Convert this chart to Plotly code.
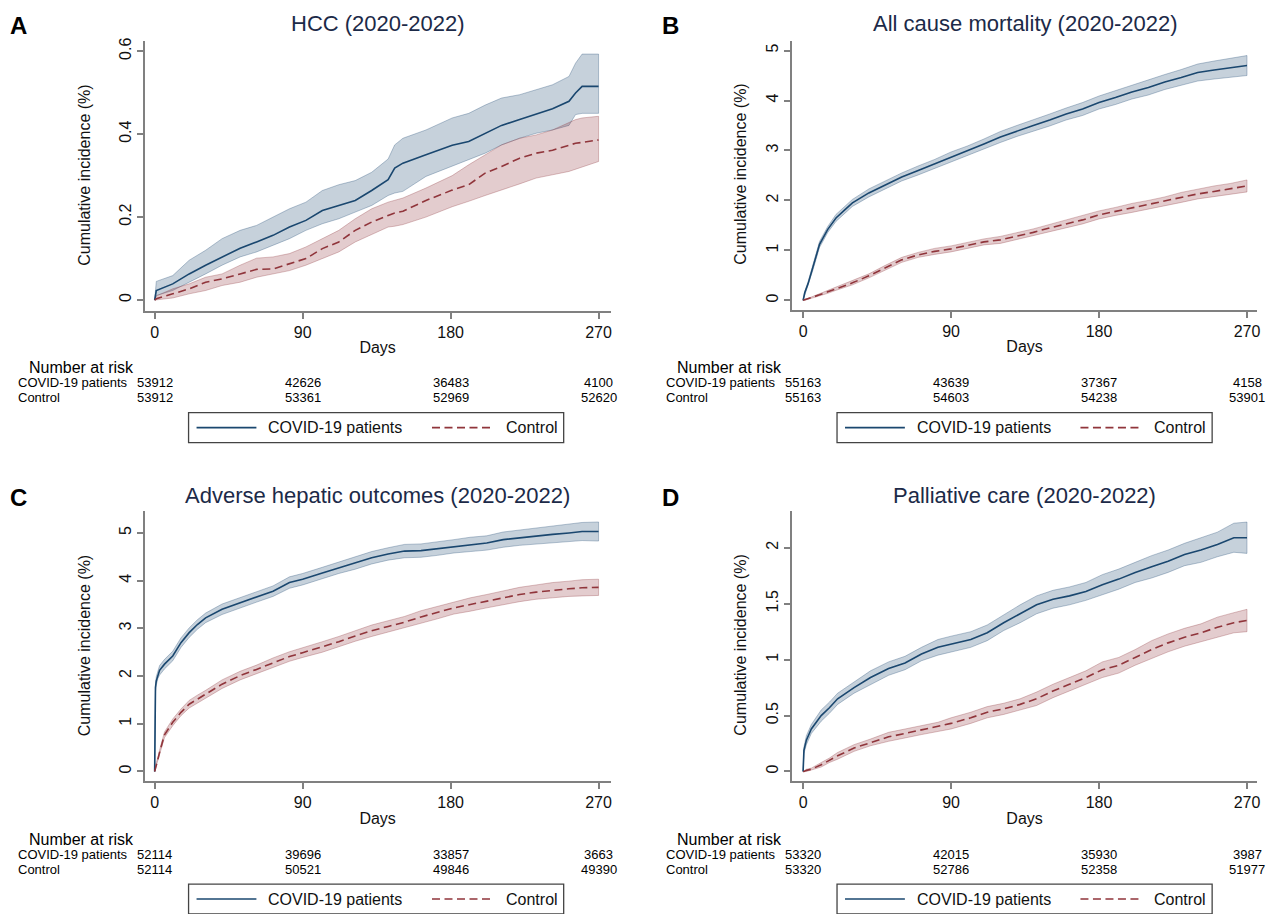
import plotly.graph_objects as go

# page body adds an 8px margin, so the figure is drawn 8px smaller and all
# reference pixel positions are shifted by that offset
PAGE_W, PAGE_H = 1275, 914
OFF = 8
W, H = PAGE_W - OFF, PAGE_H - OFF

# ---------------- data ----------------
risk_ticks = [0, 90, 180, 270]

# Panel A: HCC
a_days = [0, 1, 11, 21, 31, 41, 52, 62, 72, 82, 92, 102, 112, 122, 132, 142, 146, 151, 165, 181,
          191, 201, 211, 222, 232, 242, 252, 256, 260, 270]
a_covid = [0, 0.023, 0.039, 0.063, 0.084, 0.104, 0.125, 0.14, 0.156, 0.176, 0.192, 0.216, 0.228, 0.24,
           0.264, 0.29, 0.318, 0.33, 0.35, 0.373, 0.382, 0.402, 0.421, 0.435, 0.448, 0.461, 0.479,
           0.499, 0.515, 0.515]
a_covid_hi = [0, 0.045, 0.059, 0.096, 0.12, 0.148, 0.168, 0.18, 0.2, 0.22, 0.236, 0.264, 0.278, 0.288,
              0.308, 0.34, 0.374, 0.39, 0.41, 0.439, 0.45, 0.47, 0.487, 0.495, 0.507, 0.519, 0.539,
              0.571, 0.593, 0.593]
a_covid_lo = [0, 0.011, 0.023, 0.043, 0.063, 0.084, 0.104, 0.116, 0.132, 0.148, 0.168, 0.184, 0.196,
              0.212, 0.228, 0.252, 0.258, 0.262, 0.298, 0.322, 0.338, 0.354, 0.374, 0.39, 0.402, 0.41,
              0.421, 0.447, 0.45, 0.45]
a_ctrl = [0, 0.003, 0.015, 0.027, 0.043, 0.051, 0.063, 0.074, 0.075, 0.088, 0.1, 0.124, 0.14, 0.168,
          0.188, 0.204, 0.21, 0.214, 0.24, 0.265, 0.278, 0.306, 0.322, 0.342, 0.354, 0.361, 0.373,
          0.378, 0.38, 0.386]
a_ctrl_hi = [0, 0.01, 0.027, 0.039, 0.055, 0.063, 0.084, 0.101, 0.104, 0.112, 0.128, 0.148, 0.168,
             0.196, 0.22, 0.236, 0.24, 0.246, 0.27, 0.3, 0.326, 0.35, 0.374, 0.39, 0.398, 0.41, 0.427,
             0.435, 0.439, 0.443]
a_ctrl_lo = [0, 0, 0.005, 0.015, 0.023, 0.035, 0.043, 0.055, 0.063, 0.071, 0.084, 0.1, 0.116, 0.14,
             0.158, 0.176, 0.178, 0.182, 0.2, 0.225, 0.238, 0.252, 0.266, 0.28, 0.294, 0.302, 0.31,
             0.315, 0.32, 0.334]
a_risk_covid = [53912, 42626, 36483, 4100]
a_risk_ctrl = [53912, 53361, 52969, 52620]

# Panel B: All cause mortality
b_days = [0, 1, 3, 6, 10, 15, 20, 25, 30, 40, 50, 60, 70, 80, 90, 100, 110, 120, 130, 140, 150, 160,
          170, 180, 190, 200, 210, 220, 230, 240, 250, 260, 270]
b_covid = [0, 0.15, 0.33, 0.66, 1.12, 1.42, 1.65, 1.8, 1.95, 2.15, 2.31, 2.47, 2.6, 2.73, 2.87, 2.99,
           3.13, 3.27, 3.39, 3.5, 3.61, 3.73, 3.83, 3.96, 4.06, 4.17, 4.26, 4.37, 4.46, 4.56, 4.61,
           4.66, 4.7]
b_covid_hi = [0, 0.18, 0.37, 0.71, 1.18, 1.48, 1.72, 1.87, 2.02, 2.23, 2.39, 2.55, 2.69, 2.82, 2.97,
              3.09, 3.23, 3.38, 3.5, 3.61, 3.73, 3.85, 3.96, 4.09, 4.2, 4.31, 4.41, 4.52, 4.62, 4.73,
              4.79, 4.85, 4.9]
b_covid_lo = [0, 0.12, 0.29, 0.61, 1.06, 1.36, 1.58, 1.73, 1.88, 2.07, 2.23, 2.39, 2.51, 2.64, 2.77,
              2.89, 3.03, 3.16, 3.28, 3.39, 3.49, 3.61, 3.7, 3.83, 3.92, 4.03, 4.11, 4.22, 4.3, 4.39,
              4.43, 4.47, 4.5]
b_ctrl = [0, 0.01, 0.03, 0.06, 0.11, 0.17, 0.23, 0.29, 0.35, 0.49, 0.65, 0.81, 0.91, 0.98, 1.03, 1.1,
          1.17, 1.21, 1.28, 1.36, 1.45, 1.53, 1.61, 1.71, 1.78, 1.85, 1.91, 1.98, 2.06, 2.13, 2.18,
          2.23, 2.29]
b_ctrl_hi = [0, 0.02, 0.04, 0.08, 0.13, 0.2, 0.26, 0.32, 0.39, 0.53, 0.7, 0.86, 0.96, 1.04, 1.09, 1.16,
             1.23, 1.28, 1.35, 1.43, 1.52, 1.61, 1.69, 1.79, 1.86, 1.94, 2.0, 2.07, 2.16, 2.23, 2.29,
             2.34, 2.41]
b_ctrl_lo = [0, 0.0, 0.02, 0.04, 0.09, 0.14, 0.2, 0.26, 0.31, 0.45, 0.6, 0.76, 0.86, 0.92, 0.97, 1.04,
             1.11, 1.14, 1.21, 1.29, 1.38, 1.45, 1.53, 1.63, 1.7, 1.76, 1.82, 1.89, 1.96, 2.03, 2.07,
             2.12, 2.17]
b_risk_covid = [55163, 43639, 37367, 4158]
b_risk_ctrl = [55163, 54603, 54238, 53901]

# Panel C: Adverse hepatic outcomes
c_days = [0, 0.5, 1, 2, 3, 6, 11, 16, 21, 26, 31, 41, 52, 62, 72, 82, 90, 102, 112, 122, 132, 142, 152,
          162, 172, 182, 192, 202, 212, 222, 232, 242, 252, 260, 270]
c_covid = [0, 1.76, 1.9, 2.04, 2.12, 2.25, 2.42, 2.7, 2.91, 3.08, 3.22, 3.4, 3.54, 3.66, 3.78, 3.96,
           4.03, 4.16, 4.27, 4.37, 4.48, 4.56, 4.62, 4.63, 4.67, 4.72, 4.76, 4.79, 4.86, 4.9, 4.93,
           4.97, 5.0, 5.03, 5.03]
c_covid_hi = [0, 1.84, 1.99, 2.13, 2.22, 2.35, 2.52, 2.8, 3.01, 3.18, 3.32, 3.51, 3.65, 3.77, 3.89,
              4.08, 4.15, 4.28, 4.39, 4.5, 4.61, 4.69, 4.76, 4.77, 4.81, 4.86, 4.91, 4.94, 5.02, 5.06,
              5.1, 5.14, 5.18, 5.22, 5.23]
c_covid_lo = [0, 1.68, 1.81, 1.95, 2.02, 2.15, 2.32, 2.6, 2.81, 2.98, 3.12, 3.29, 3.43, 3.55, 3.67,
              3.84, 3.91, 4.04, 4.15, 4.24, 4.35, 4.43, 4.48, 4.49, 4.53, 4.58, 4.61, 4.64, 4.7, 4.74,
              4.76, 4.8, 4.82, 4.84, 4.83]
c_ctrl = [0, 0.08, 0.16, 0.26, 0.4, 0.77, 1.03, 1.24, 1.41, 1.52, 1.62, 1.83, 2.01, 2.14, 2.28, 2.41,
          2.49, 2.61, 2.72, 2.84, 2.95, 3.04, 3.13, 3.24, 3.33, 3.43, 3.5, 3.57, 3.64, 3.71, 3.76, 3.8,
          3.83, 3.85, 3.86]
c_ctrl_hi = [0, 0.1, 0.19, 0.3, 0.45, 0.83, 1.1, 1.31, 1.49, 1.6, 1.7, 1.92, 2.1, 2.23, 2.38, 2.51,
             2.59, 2.72, 2.83, 2.95, 3.07, 3.16, 3.25, 3.37, 3.46, 3.56, 3.64, 3.71, 3.78, 3.86, 3.91,
             3.96, 3.99, 4.02, 4.03]
c_ctrl_lo = [0, 0.06, 0.13, 0.22, 0.35, 0.71, 0.96, 1.17, 1.33, 1.44, 1.54, 1.74, 1.92, 2.05, 2.18,
             2.31, 2.39, 2.5, 2.61, 2.73, 2.83, 2.92, 3.01, 3.11, 3.2, 3.3, 3.36, 3.43, 3.5, 3.56, 3.61,
             3.64, 3.67, 3.68, 3.69]
c_risk_covid = [52114, 39696, 33857, 3663]
c_risk_ctrl = [52114, 50521, 49846, 49390]

# Panel D: Palliative care
d_days = [0, 0.5, 2, 5, 11, 16, 21, 31, 41, 52, 62, 72, 82, 90, 102, 112, 122, 132, 142, 152, 162, 172,
          182, 192, 202, 212, 222, 232, 242, 252, 262, 270]
d_covid = [0, 0.19, 0.28, 0.38, 0.5, 0.57, 0.65, 0.75, 0.84, 0.92, 0.97, 1.05, 1.11, 1.14, 1.18, 1.24,
           1.33, 1.41, 1.49, 1.54, 1.57, 1.61, 1.67, 1.72, 1.78, 1.83, 1.88, 1.94, 1.98, 2.03, 2.09,
           2.09]
d_covid_hi = [0, 0.22, 0.32, 0.42, 0.55, 0.62, 0.7, 0.8, 0.9, 0.98, 1.03, 1.11, 1.18, 1.21, 1.25, 1.31,
              1.4, 1.49, 1.57, 1.62, 1.65, 1.69, 1.76, 1.81, 1.87, 1.93, 1.98, 2.04, 2.09, 2.14, 2.22,
              2.23]
d_covid_lo = [0, 0.16, 0.24, 0.34, 0.45, 0.52, 0.6, 0.7, 0.78, 0.86, 0.91, 0.99, 1.04, 1.07, 1.11, 1.17,
              1.26, 1.33, 1.41, 1.46, 1.49, 1.53, 1.58, 1.63, 1.69, 1.73, 1.78, 1.84, 1.87, 1.92, 1.96,
              1.95]
d_ctrl = [0, 0.0, 0.01, 0.02, 0.06, 0.1, 0.14, 0.21, 0.26, 0.31, 0.34, 0.37, 0.4, 0.43, 0.48, 0.53,
          0.56, 0.6, 0.65, 0.72, 0.78, 0.84, 0.91, 0.95, 1.02, 1.09, 1.15, 1.2, 1.24, 1.29, 1.33, 1.35]
d_ctrl_hi = [0, 0.0, 0.02, 0.03, 0.08, 0.12, 0.17, 0.24, 0.29, 0.35, 0.38, 0.41, 0.44, 0.48, 0.53, 0.58,
             0.61, 0.65, 0.71, 0.78, 0.84, 0.9, 0.98, 1.02, 1.09, 1.17, 1.23, 1.28, 1.32, 1.38, 1.42,
             1.45]
d_ctrl_lo = [0, 0.0, 0.0, 0.01, 0.04, 0.08, 0.11, 0.18, 0.23, 0.27, 0.3, 0.33, 0.36, 0.38, 0.43, 0.48,
             0.51, 0.55, 0.59, 0.66, 0.72, 0.78, 0.84, 0.88, 0.95, 1.01, 1.07, 1.12, 1.16, 1.2, 1.24,
             1.25]
d_risk_covid = [53320, 42015, 35930, 3987]
d_risk_ctrl = [53320, 52786, 52358, 51977]

titles = ["HCC (2020-2022)", "All cause mortality (2020-2022)",
          "Adverse hepatic outcomes (2020-2022)", "Palliative care (2020-2022)"]
letters = ["A", "B", "C", "D"]
series_names = ["COVID-19 patients", "Control"]
y_ticks = [[0, 0.2, 0.4, 0.6], [0, 1, 2, 3, 4, 5], [0, 1, 2, 3, 4, 5], [0, 0.5, 1, 1.5, 2]]

# ---------------- styling / layout ----------------
FONT = "Liberation Sans, Arial, sans-serif"
NAVY = "#1a476f"
MAROON = "#90353b"
NAVY_FILL = "rgba(26,71,111,0.25)"
MAROON_FILL = "rgba(144,53,59,0.25)"
NAVY_EDGE = "rgba(26,71,111,0.30)"
MAROON_EDGE = "rgba(144,53,59,0.30)"
AXIS_COL = "#808080"
DASH = "8px,4.5px"


def fx(p):
    return (p - OFF) / W


def fy(p):
    return 1 - (p - OFF) / H


# panel geometry in page pixels: axis box (left, right, top, bottom), ranges, offsets
geo = [
    dict(l=145, r=612, t=38, b=309, xr=[-6.07, 277.3], yr=[-0.0264, 0.6247], dx=0, dy=0, ytx=85),
    dict(l=794, r=1260, t=38, b=308, xr=[-6.67, 276.1], yr=[-0.1935, 5.193], dx=650, dy=0, ytx=742),
    dict(l=145, r=612, t=510, b=781, xr=[-6.07, 277.3], yr=[-0.209, 5.453], dx=0, dy=473, ytx=85),
    dict(l=794, r=1260, t=510, b=781, xr=[-6.67, 276.1], yr=[-0.089, 2.326], dx=650, dy=473, ytx=742),
]

panels = [
    (a_days, a_covid, a_covid_lo, a_covid_hi, a_ctrl, a_ctrl_lo, a_ctrl_hi, a_risk_covid, a_risk_ctrl),
    (b_days, b_covid, b_covid_lo, b_covid_hi, b_ctrl, b_ctrl_lo, b_ctrl_hi, b_risk_covid, b_risk_ctrl),
    (c_days, c_covid, c_covid_lo, c_covid_hi, c_ctrl, c_ctrl_lo, c_ctrl_hi, c_risk_covid, c_risk_ctrl),
    (d_days, d_covid, d_covid_lo, d_covid_hi, d_ctrl, d_ctrl_lo, d_ctrl_hi, d_risk_covid, d_risk_ctrl),
]

fig = go.Figure()
annotations = []
shapes = []

for i, (days, cv, cvlo, cvhi, ct, ctlo, cthi, rcv, rct) in enumerate(panels):
    g = geo[i]
    sfx = "" if i == 0 else str(i + 1)
    xa, ya = "x" + sfx, "y" + sfx

    # confidence bands
    for lo, hi, fill, edge in [(cvlo, cvhi, NAVY_FILL, NAVY_EDGE), (ctlo, cthi, MAROON_FILL, MAROON_EDGE)]:
        fig.add_trace(go.Scatter(
            x=list(days) + list(days)[::-1], y=list(hi) + list(lo)[::-1],
            mode="lines", fill="toself", fillcolor=fill,
            line=dict(color=edge, width=1), hoverinfo="skip", showlegend=False,
            xaxis=xa, yaxis=ya))
    # estimate lines
    fig.add_trace(go.Scatter(x=days, y=cv, mode="lines", name=series_names[0],
                             line=dict(color=NAVY, width=1.6), showlegend=False,
                             xaxis=xa, yaxis=ya))
    fig.add_trace(go.Scatter(x=days, y=ct, mode="lines", name=series_names[1],
                             line=dict(color=MAROON, width=1.6, dash=DASH), showlegend=False,
                             xaxis=xa, yaxis=ya))

    axis_common = dict(showline=True, linecolor=AXIS_COL, linewidth=1.5, ticks="outside",
                       ticklen=6, tickwidth=1.5, tickcolor=AXIS_COL, showgrid=False,
                       zeroline=False, tickfont=dict(family=FONT, size=16, color="#111"))
    fig.layout["xaxis" + sfx] = dict(
        domain=[fx(g["l"]), fx(g["r"])], range=g["xr"], anchor=ya,
        tickvals=risk_ticks, ticktext=[str(v) for v in risk_ticks],
        title=dict(text="Days", font=dict(family=FONT, size=16, color="#111"), standoff=2),
        **axis_common)
    fig.layout["yaxis" + sfx] = dict(
        domain=[fy(g["b"]), fy(g["t"])], range=g["yr"], anchor=xa,
        tickvals=y_ticks[i], tickangle=-90, **axis_common)

    # y axis title
    annotations.append(dict(
        text="Cumulative incidence (%)", textangle=-90, xref="paper", yref="paper",
        x=fx(g["ytx"]), y=fy((g["t"] + g["b"]) / 2 - 1), showarrow=False,
        font=dict(family=FONT, size=16, color="#111"), xanchor="center", yanchor="middle"))

    # panel title
    annotations.append(dict(
        text=titles[i], xref=xa + " domain", yref="paper", x=0.5, y=fy(21 + g["dy"]),
        showarrow=False, font=dict(family=FONT, size=22, color="#1c2a48"),
        xanchor="center", yanchor="middle"))
    # panel letter
    annotations.append(dict(
        text="<b>%s</b>" % letters[i], xref="paper", yref="paper",
        x=fx(19 + g["dx"] + (3 if i % 2 else 0)), y=fy(23 + g["dy"]), showarrow=False,
        font=dict(family=FONT, size=24, color="#000"), xanchor="center", yanchor="middle"))

    # number at risk table
    annotations.append(dict(
        text="Number at risk", xref="paper", yref="paper", x=fx(27 + g["dx"]),
        y=fy(366 + g["dy"]), showarrow=False, xanchor="left", yanchor="middle",
        font=dict(family=FONT, size=16, color="#000")))
    for row_y, lab, vals in [(381, series_names[0], rcv), (396, series_names[1], rct)]:
        annotations.append(dict(
            text=lab, xref="paper", yref="paper", x=fx(16 + g["dx"]), y=fy(row_y + g["dy"]),
            showarrow=False, xanchor="left", yanchor="middle",
            font=dict(family=FONT, size=13, color="#000")))
        for t, v in zip(risk_ticks, vals):
            annotations.append(dict(
                text=str(v), xref=xa, yref="paper", x=t, y=fy(row_y + g["dy"]),
                showarrow=False, xanchor="center", yanchor="middle",
                font=dict(family=FONT, size=13, color="#000")))

    # legend box (drawn per panel)
    bx0, bx1 = 189 + g["dx"], 565 + g["dx"]
    by0, by1 = 411 + g["dy"], 441 + g["dy"]
    ly = (by0 + by1) / 2
    shapes.append(dict(type="rect", xref="paper", yref="paper", x0=fx(bx0), x1=fx(bx1),
                       y0=fy(by1), y1=fy(by0), line=dict(color="#444", width=1.3),
                       fillcolor="white", layer="above"))
    shapes.append(dict(type="line", xref="paper", yref="paper", x0=fx(bx0 + 8), x1=fx(bx0 + 68),
                       y0=fy(ly), y1=fy(ly), line=dict(color=NAVY, width=1.6)))
    shapes.append(dict(type="line", xref="paper", yref="paper", x0=fx(bx0 + 244), x1=fx(bx0 + 306),
                       y0=fy(ly), y1=fy(ly), line=dict(color=MAROON, width=1.6, dash=DASH)))
    annotations.append(dict(text=series_names[0], xref="paper", yref="paper", x=fx(bx0 + 78),
                            y=fy(ly), showarrow=False, xanchor="left", yanchor="middle",
                            font=dict(family=FONT, size=16, color="#111")))
    annotations.append(dict(text=series_names[1], xref="paper", yref="paper", x=fx(bx0 + 316),
                            y=fy(ly), showarrow=False, xanchor="left", yanchor="middle",
                            font=dict(family=FONT, size=16, color="#111")))

fig.update_layout(
    width=W, height=H, margin=dict(l=0, r=0, t=0, b=0),
    paper_bgcolor="white", plot_bgcolor="white", showlegend=False,
    annotations=annotations, shapes=shapes,
    font=dict(family=FONT, color="#111"),
)

fig.write_html("out.html")
